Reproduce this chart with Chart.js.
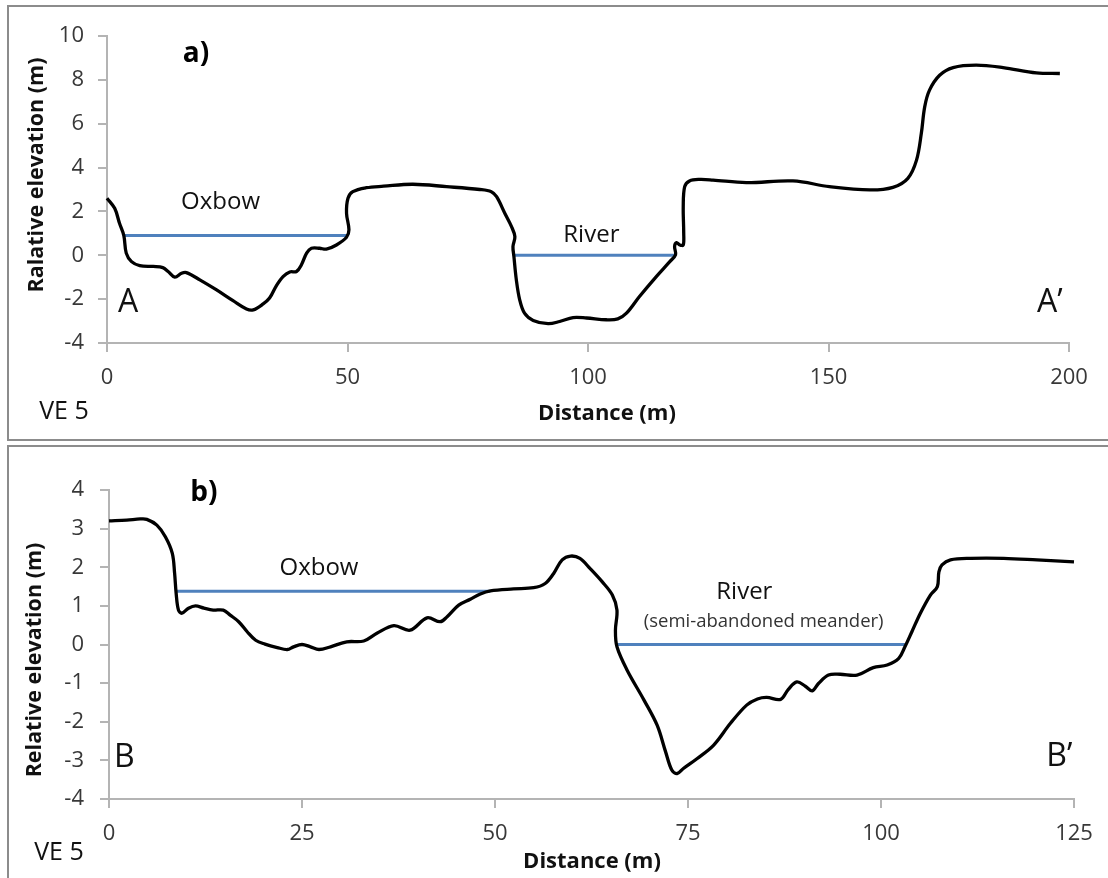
<!DOCTYPE html>
<html>
<head>
<meta charset="utf-8">
<title>Cross sections A-A' and B-B'</title>
<script src="https://cdn.jsdelivr.net/npm/chart.js@4.4.1/dist/chart.umd.min.js"></script>
<style>
  body { margin: 0; background: #fff; width: 1108px; height: 878px; overflow: hidden; position: relative; }
  .frame { position: absolute; border: 2px solid #8c8c8c; border-right: none; }
  #frameA { left: 7px; top: 5px; width: 1200px; height: 432px; }
  #frameB { left: 7px; top: 445px; width: 1200px; height: 500px; }
  canvas { position: absolute; left: 0; }
  #chartA { top: 0; }
  #chartB { top: 440px; }
</style>
</head>
<body>
<div class="frame" id="frameA"></div>
<div class="frame" id="frameB"></div>
<canvas id="chartA" width="1108" height="440"></canvas>
<canvas id="chartB" width="1108" height="438"></canvas>

<script>
// ---- Section A-A' ----
const distA = [0, 1.6, 2.6, 3.5, 4.0, 5.1, 6.8, 9.6, 11.6, 12.7, 14.1, 15.5, 16.5, 19.3, 22.7,
  26.2, 29.0, 30.4, 32.4, 33.8, 35.2, 36.6, 38.0, 39.4, 40.4, 41.5, 42.5, 44.2, 45.6, 47.7,
  49.8, 50.3, 49.8, 50.1, 51.1, 53.9, 57.5, 63.6, 70.6, 77.5, 79.9, 81.0, 82.7, 84.1, 84.8,
  84.4, 84.6, 85.1, 85.8, 86.8, 88.6, 91.7, 94.1, 96.9, 99.7, 103.8, 106.2, 108.0, 110.7, 114.2,
  117.0, 118.2, 118.0, 118.4, 119.1, 119.8, 119.9, 119.8, 120.1, 121.1, 123.2, 126.0, 132.9, 142.6, 150.2,
  158.6, 163.4, 166.5, 168.3, 169.3, 170.0, 171.0, 173.1, 175.9, 180.7, 186.3, 193.2, 198.1];
const elevA = [2.6, 2.14, 1.46, 0.9, 0.1, -0.29, -0.47, -0.51, -0.56, -0.74, -1.0, -0.82, -0.79, -1.12, -1.57,
  -2.07, -2.45, -2.49, -2.23, -1.95, -1.39, -0.97, -0.76, -0.74, -0.44, 0.1, 0.32, 0.32, 0.28, 0.47,
  0.82, 1.16, 1.92, 2.6, 2.9, 3.08, 3.15, 3.24, 3.13, 3.0, 2.9, 2.67, 1.92, 1.31, 0.85,
  0.4, -0.06, -1.12, -2.03, -2.64, -2.97, -3.12, -3.02, -2.84, -2.86, -2.94, -2.9, -2.64, -1.88, -0.97,
  -0.29, 0.02, 0.4, 0.58, 0.47, 0.47, 1.0, 2.22, 3.13, 3.39, 3.46, 3.43, 3.31, 3.39, 3.13,
  2.98, 3.1, 3.51, 4.34, 5.56, 6.77, 7.53, 8.21, 8.56, 8.67, 8.56, 8.32, 8.29];
const oxbowA = [3.5, 50.1];   // water surface extent (m)
const oxbowLevelA = 0.9;
const riverA = [84.4, 118.2];
const riverLevelA = 0;
const yTicksA = [-4, -2, 0, 2, 4, 6, 8, 10];
const xTicksA = [0, 50, 100, 150, 200];

// ---- Section B-B' ----
const distB = [0, 2.3, 4.05, 4.9, 6.2, 7.3, 8.2, 8.5, 8.7, 9.0, 9.45, 10.3, 11.2, 12.3, 13.5,
  14.8, 15.7, 16.8, 17.9, 19.0, 20.2, 21.8, 23.1, 23.9, 25.0, 26.1, 27.2, 28.7, 30.8, 33.0,
  34.7, 36.9, 39.0, 41.2, 42.9, 43.8, 45.3, 46.8, 48.1, 49.4, 52.4, 55.0, 56.5, 57.6, 58.7,
  59.8, 61.0, 62.3, 63.9, 65.2, 65.8, 65.6, 65.8, 67.1, 69.3, 71.0, 72.1, 72.9, 73.6, 74.4,
  76.2, 78.3, 80.5, 82.6, 84.0, 85.2, 87.0, 88.0, 89.1, 90.2, 91.1, 91.9, 93.2, 94.7, 96.9,
  99.0, 100.8, 102.3, 103.1, 104.0, 105.1, 106.4, 107.3, 107.5, 107.9, 109.0, 111.6, 115.9, 120.2, 125.0];
const elevB = [3.2, 3.22, 3.25, 3.24, 3.09, 2.79, 2.36, 1.84, 1.32, 0.89, 0.81, 0.94, 1.0, 0.94, 0.89,
  0.89, 0.76, 0.59, 0.33, 0.11, 0.01, -0.08, -0.13, -0.06, 0.0, -0.06, -0.13, -0.06, 0.07, 0.09,
  0.29, 0.49, 0.37, 0.69, 0.59, 0.72, 1.02, 1.17, 1.31, 1.39, 1.44, 1.47, 1.58, 1.84, 2.19,
  2.29, 2.23, 1.97, 1.62, 1.28, 0.89, 0.37, -0.06, -0.66, -1.44, -2.09, -2.78, -3.25, -3.34, -3.21,
  -2.95, -2.61, -2.04, -1.57, -1.41, -1.37, -1.42, -1.16, -0.97, -1.08, -1.2, -1.01, -0.79, -0.77, -0.79,
  -0.6, -0.53, -0.36, -0.06, 0.33, 0.81, 1.28, 1.5, 1.88, 2.06, 2.19, 2.23, 2.23, 2.19, 2.14];
const oxbowB = [8.8, 49.4];
const oxbowLevelB = 1.38;
const riverB = [65.8, 103.1];
const riverLevelB = 0;
const yTicksB = [-4, -3, -2, -1, 0, 1, 2, 3, 4];
const xTicksB = [0, 25, 50, 75, 100, 125];

const FONT = '"Open Sans", "Noto Sans", sans-serif';
const AXIS_GREY = '#b4b4b4';
const WATER = '#4f81bd';

const toPoints = (xs, ys) => xs.map((x, i) => ({ x, y: ys[i] }));
const levelLine = (xs, level) => xs.map(x => ({ x, y: level }));

// text drawn on top of the chart; `at` = data coords, `px` = canvas pixels
function textPlugin(items) {
    return {
        id: 'sectionText',
        afterDraw(chart) {
            const { ctx, scales } = chart;
            items.forEach(t => {
                const px = t.at ? scales.x.getPixelForValue(t.at[0]) : t.px[0];
                const py = t.at ? scales.y.getPixelForValue(t.at[1]) : t.px[1];
                ctx.save();
                ctx.font = t.font;
                ctx.fillStyle = t.color || '#111';
                ctx.textAlign = 'center';
                ctx.textBaseline = 'middle';
                ctx.translate(px, py);
                if (t.rotate) ctx.rotate(-Math.PI / 2);
                ctx.fillText(t.text, 0, 0);
                ctx.restore();
            });
        }
    };
}

function makeSection(canvasId, cfg) {
    const scaleCommon = {
        type: 'linear',
        grid: { drawOnChartArea: false, drawTicks: true, tickLength: 9, color: AXIS_GREY, lineWidth: 2 },
        border: { color: AXIS_GREY, width: 2 },
    };
    return new Chart(document.getElementById(canvasId), {
        type: 'scatter',
        data: {
            datasets: [
                { data: toPoints(cfg.dist, cfg.elev), showLine: true, borderColor: '#000', borderWidth: 3.3,
                  pointRadius: 0, tension: 0.35, clip: false },
                { data: levelLine(cfg.oxbow, cfg.oxbowLevel), showLine: true, borderColor: WATER, borderWidth: 3, pointRadius: 0 },
                { data: levelLine(cfg.river, cfg.riverLevel), showLine: true, borderColor: WATER, borderWidth: 3, pointRadius: 0 }
            ]
        },
        options: {
            responsive: false,
            animation: false,
            locale: 'en-US',
            layout: { padding: { left: 0, top: cfg.area.top, right: cfg.width - cfg.area.right, bottom: 0 } },
            plugins: { legend: { display: false }, tooltip: { enabled: false } },
            scales: {
                x: {
                    ...scaleCommon,
                    min: cfg.xTicks[0], max: cfg.xTicks[cfg.xTicks.length - 1],
                    afterBuildTicks: s => { s.ticks = cfg.xTicks.map(v => ({ value: v })); },
                    afterFit: s => { s.height = cfg.height - cfg.area.bottom; },
                    ticks: { font: { family: FONT, size: 22 }, color: '#383838', padding: 13, maxRotation: 0 }
                },
                y: {
                    ...scaleCommon,
                    min: cfg.yTicks[0], max: cfg.yTicks[cfg.yTicks.length - 1],
                    afterBuildTicks: s => { s.ticks = cfg.yTicks.map(v => ({ value: v })); },
                    afterFit: s => { s.width = cfg.area.left; },
                    ticks: { font: { family: FONT, size: 22 }, color: '#383838', padding: cfg.yPad }
                }
            }
        },
        plugins: [textPlugin(cfg.text)]
    });
}

makeSection('chartA', {
    width: 1108, height: 440,
    area: { left: 107, top: 36, right: 1069, bottom: 343 },
    yPad: 14,
    dist: distA, elev: elevA,
    oxbow: oxbowA, oxbowLevel: oxbowLevelA, river: riverA, riverLevel: riverLevelA,
    xTicks: xTicksA, yTicks: yTicksA,
    text: [
        { text: 'a)', at: [18.5, 9.2], font: `bold 28px ${FONT}`, color: '#000' },
        { text: 'Oxbow', at: [23.6, 2.42], font: `24px ${FONT}` },
        { text: 'River', at: [100.7, 0.93], font: `24px ${FONT}` },
        { text: 'A', at: [4.4, -2.17], font: `32px ${FONT}` },
        { text: 'A\u2019', at: [196.0, -2.17], font: `32px ${FONT}` },
        { text: 'Ralative elevation (m)', px: [37, 175], rotate: true, font: `bold 21.5px ${FONT}` },
        { text: 'Distance (m)', px: [607, 414], font: `bold 22px ${FONT}` },
        { text: 'VE 5', px: [64, 412], font: `25px ${FONT}` }
    ]
});

makeSection('chartB', {
    width: 1108, height: 438,
    area: { left: 109, top: 50, right: 1074, bottom: 359 },
    yPad: 16,
    dist: distB, elev: elevB,
    oxbow: oxbowB, oxbowLevel: oxbowLevelB, river: riverB, riverLevel: riverLevelB,
    xTicks: xTicksB, yTicks: yTicksB,
    text: [
        { text: 'b)', at: [12.3, 3.92], font: `bold 28px ${FONT}`, color: '#000' },
        { text: 'Oxbow', at: [27.2, 1.98], font: `24px ${FONT}` },
        { text: 'River', at: [82.3, 1.36], font: `24px ${FONT}` },
        { text: '(semi-abandoned meander)', at: [84.8, 0.58], font: `18.5px ${FONT}`, color: '#333' },
        { text: 'B', at: [2.0, -2.94], font: `32px ${FONT}` },
        { text: 'B\u2019', at: [123.1, -2.92], font: `32px ${FONT}` },
        { text: 'Relative elevation (m)', px: [35, 220], rotate: true, font: `bold 21.5px ${FONT}` },
        { text: 'Distance (m)', px: [592, 422], font: `bold 22px ${FONT}` },
        { text: 'VE 5', px: [59, 413], font: `25px ${FONT}` }
    ]
});
</script>
</body>
</html>
